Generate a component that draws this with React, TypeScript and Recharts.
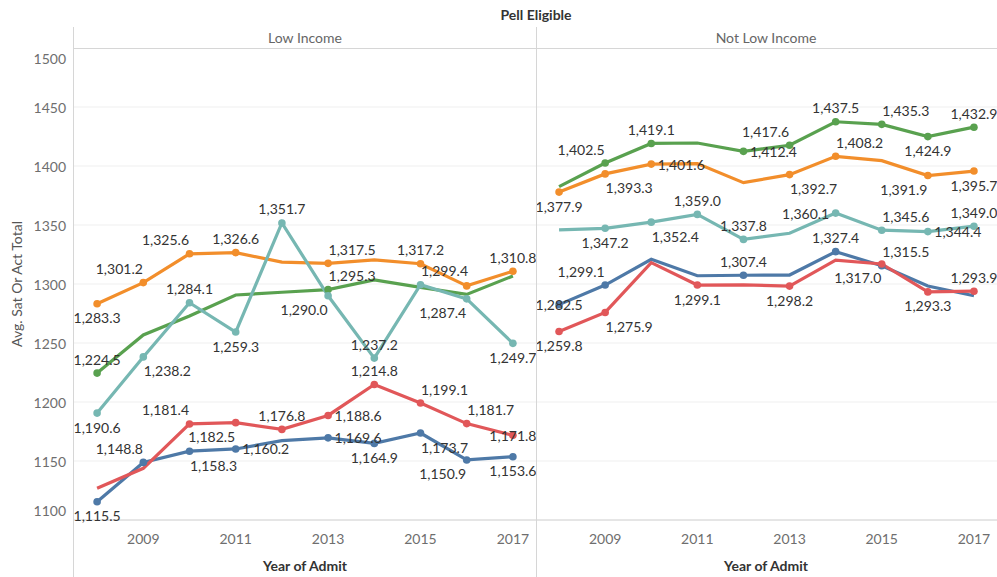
import React from 'react';
import { LineChart, Line, XAxis, YAxis, CartesianGrid } from 'recharts';

const years = [2008, 2009, 2010, 2011, 2012, 2013, 2014, 2015, 2016, 2017];
const xTicks = [2009, 2011, 2013, 2015, 2017];
const yTicks = [1100, 1150, 1200, 1250, 1300, 1350, 1400, 1450, 1500];

// Low Income
const lowBlue = [1115.5, 1148.8, 1158.3, 1160.2, 1167.2, 1169.6, 1164.9, 1173.7, 1150.9, 1153.6];
const lowGreen = [1224.5, 1256.8, 1272.9, 1290.7, 1293.0, 1295.3, 1303.4, 1297.2, 1291.2, 1306.8];
const lowOrange = [1283.3, 1301.2, 1325.6, 1326.6, 1318.5, 1317.5, 1320.5, 1317.2, 1298.4, 1310.8];
const lowTeal = [1190.6, 1238.2, 1284.1, 1259.3, 1351.7, 1290.0, 1237.2, 1299.4, 1287.4, 1249.7];
const lowRed = [1126.9, 1143.8, 1181.4, 1182.5, 1176.8, 1188.6, 1214.8, 1199.1, 1181.7, 1171.8];

// Not Low Income
const highBlue = [1282.5, 1299.1, 1320.9, 1307.0, 1307.4, 1307.6, 1327.4, 1315.5, 1298.3, 1290.0];
const highGreen = [1382.5, 1402.5, 1419.1, 1419.5, 1412.4, 1417.6, 1437.5, 1435.3, 1424.9, 1432.9];
const highOrange = [1377.9, 1393.3, 1401.6, 1402.0, 1385.9, 1392.7, 1408.2, 1404.5, 1391.9, 1395.7];
const highTeal = [1345.8, 1347.2, 1352.4, 1359.0, 1337.8, 1343.0, 1360.1, 1345.6, 1344.4, 1349.0];
const highRed = [1259.8, 1275.9, 1318.1, 1299.1, 1299.2, 1298.2, 1320.3, 1317.0, 1293.3, 1293.9];

// where each point's mark label sits ('' = no marker, 'd' = marker only)
const lowBlueLbl = ['b', 'al', 'br', 'r', '', 'r', 'b', 'br', 'bl', 'b'];
const lowGreenLbl = ['a', '', '', '', '', 'ar', '', '', '', ''];
const lowOrangeLbl = ['b', 'al', 'al', 'a', '', 'ar', '', 'a', 'd', 'a'];
const lowTealLbl = ['b', 'br', 'a', 'b', 'a', 'bl', 'a', 'ar', 'bl', 'b'];
const lowRedLbl = ['', '', 'al', 'bl', 'a', 'r', 'a', 'ar', 'ar', 'c'];
const highBlueLbl = ['c', 'al', '', '', 'a', '', 'a', 'ar', '', ''];
const highGreenLbl = ['', 'al', 'a', '', 'r', 'al', 'a', 'ar', 'b', 'a'];
const highOrangeLbl = ['b', 'br', 'r', '', '', 'br', 'ar', '', 'bl', 'b'];
const highTealLbl = ['', 'b', 'br', 'a', 'a', '', 'l', 'ar', 'r', 'a'];
const highRedLbl = ['b', 'br', '', 'b', '', 'b', '', 'bl', 'b', 'a'];

const BLUE = '#4E79A7';
const GREEN = '#59A14F';
const ORANGE = '#F28E2B';
const TEAL = '#76B7B2';
const RED = '#E15759';

const FONT = 'Lato, "Open Sans", sans-serif';

const OFFSETS: Record<string, [number, number]> = {
  a: [0, -14],
  b: [0, 14],
  al: [-24, -14],
  ar: [24, -14],
  bl: [-24, 14],
  br: [24, 14],
  l: [-30, 0],
  r: [30, 0],
  c: [0, 0],
};

const fmt = (v: number) =>
  v.toLocaleString('en-US', { minimumFractionDigits: 1, maximumFractionDigits: 1 });

function makeDot(color: string, places: string[]) {
  return (props: any) => {
    const { cx, cy, index } = props;
    if (!places[index]) return <g key={`d-${index}`} />;
    return <circle key={`d-${index}`} cx={cx} cy={cy} r={3.8} fill={color} />;
  };
}

function makeLabel(places: string[]) {
  return (props: any) => {
    const { x, y, value, index } = props;
    const off = OFFSETS[places[index]];
    if (!off) return <g key={`l-${index}`} />;
    return (
      <text
        key={`l-${index}`}
        x={x + off[0]}
        y={y + off[1]}
        textAnchor="middle"
        dominantBaseline="central"
        fill="#333"
        fontSize={14}
        fontFamily={FONT}
      >
        {fmt(value)}
      </text>
    );
  };
}

function XTick({ x, y, payload }: any) {
  return (
    <text x={x} y={y + 10} textAnchor="middle" dominantBaseline="central" fill="#6e6e6e" fontSize={14} fontFamily={FONT}>
      {payload.value}
    </text>
  );
}

function YTick({ x, y, payload }: any) {
  const shift = payload.value === 1500 ? 10 : payload.value === 1100 ? -10 : 0;
  return (
    <text x={x} y={y + shift} textAnchor="end" dominantBaseline="central" fill="#6e6e6e" fontSize={14} fontFamily={FONT}>
      {payload.value}
    </text>
  );
}

interface Series {
  key: string;
  color: string;
  values: number[];
  places: string[];
}

const lowSeries: Series[] = [
  { key: 'blue', color: BLUE, values: lowBlue, places: lowBlueLbl },
  { key: 'green', color: GREEN, values: lowGreen, places: lowGreenLbl },
  { key: 'orange', color: ORANGE, values: lowOrange, places: lowOrangeLbl },
  { key: 'teal', color: TEAL, values: lowTeal, places: lowTealLbl },
  { key: 'red', color: RED, values: lowRed, places: lowRedLbl },
];

const highSeries: Series[] = [
  { key: 'blue', color: BLUE, values: highBlue, places: highBlueLbl },
  { key: 'green', color: GREEN, values: highGreen, places: highGreenLbl },
  { key: 'orange', color: ORANGE, values: highOrange, places: highOrangeLbl },
  { key: 'teal', color: TEAL, values: highTeal, places: highTealLbl },
  { key: 'red', color: RED, values: highRed, places: highRedLbl },
];

function Panel({ series, showY, width }: { series: Series[]; showY: boolean; width: number }) {
  const data = years.map((year, i) => {
    const row: any = { year };
    series.forEach((s) => (row[s.key] = s.values[i]));
    return row;
  });
  return (
    <LineChart
      width={width}
      height={502}
      data={data}
      margin={{ top: 0, right: 0, bottom: 0, left: 0 }}
      style={{ overflow: 'visible' }}
    >
      <CartesianGrid vertical={false} stroke="#efefef" />
      <XAxis
        dataKey="year"
        type="number"
        domain={[2007.5, 2017.5]}
        ticks={xTicks}
        axisLine={{ stroke: '#d4d4d4' }}
        tickLine={false}
        height={30}
        tick={<XTick />}
        interval={0}
      />
      <YAxis
        type="number"
        domain={[1100, 1500]}
        ticks={yTicks}
        width={showY ? 74 : 0}
        hide={!showY}
        axisLine={false}
        tickLine={false}
        tick={<YTick />}
        interval={0}
      />
      {series.map((s) => (
        <Line
          key={s.key}
          type="linear"
          dataKey={s.key}
          stroke={s.color}
          strokeWidth={3.2}
          dot={makeDot(s.color, s.places)}
          activeDot={false}
          label={makeLabel(s.places)}
          isAnimationActive={false}
        />
      ))}
    </LineChart>
  );
}

const text = (style: React.CSSProperties): React.CSSProperties => ({
  position: 'absolute',
  fontFamily: FONT,
  whiteSpace: 'nowrap',
  lineHeight: 1,
  ...style,
});

export default function App() {
  return (
    <div style={{ position: 'absolute', left: 0, top: 0, width: 997, height: 577, background: '#fff', overflow: 'hidden' }}>
      <div style={text({ left: 536, top: 8, transform: 'translateX(-50%)', fontSize: 14, fontWeight: 700, color: '#333' })}>
        Pell Eligible
      </div>
      <div style={text({ left: 305, top: 31, transform: 'translateX(-50%)', fontSize: 14, color: '#666' })}>Low Income</div>
      <div style={text({ left: 766, top: 31, transform: 'translateX(-50%)', fontSize: 14, color: '#666' })}>
        Not Low Income
      </div>

      <div style={{ position: 'absolute', left: 0, top: 48 }}>
        <Panel series={lowSeries} showY width={536} />
      </div>
      <div style={{ position: 'absolute', left: 536, top: 48 }}>
        <Panel series={highSeries} showY={false} width={461} />
      </div>

      <div style={{ position: 'absolute', left: 74, top: 48, width: 923, height: 1, background: '#d6d6d6' }} />
      <div style={{ position: 'absolute', left: 73, top: 27, width: 1, height: 550, background: '#d6d6d6' }} />
      <div style={{ position: 'absolute', left: 536, top: 27, width: 1, height: 550, background: '#d6d6d6' }} />

      <div
        style={text({
          left: 17,
          top: 284,
          transform: 'translate(-50%, -50%) rotate(-90deg)',
          fontSize: 14,
          color: '#555',
        })}
      >
        Avg. Sat Or Act Total
      </div>
      <div style={text({ left: 305, top: 559, transform: 'translateX(-50%)', fontSize: 14, fontWeight: 700, color: '#333' })}>
        Year of Admit
      </div>
      <div style={text({ left: 766, top: 559, transform: 'translateX(-50%)', fontSize: 14, fontWeight: 700, color: '#333' })}>
        Year of Admit
      </div>
    </div>
  );
}
